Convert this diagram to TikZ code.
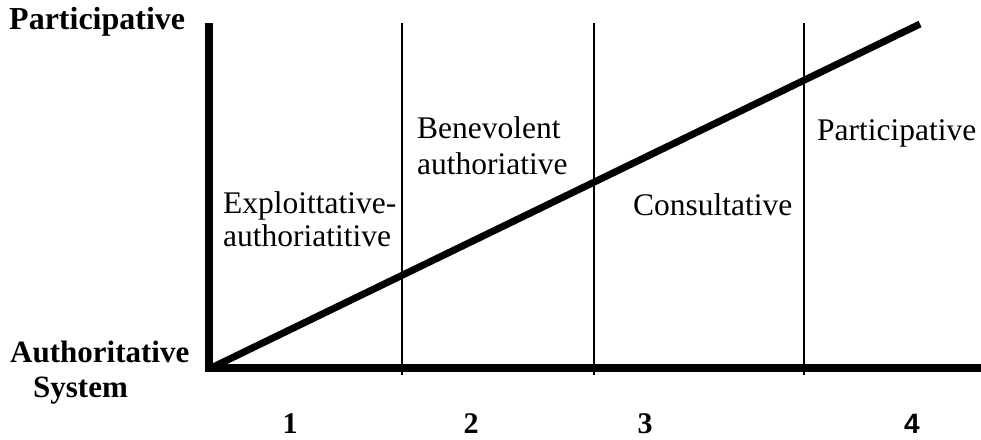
\documentclass[tikz,border=0pt]{standalone}
\usepackage{fontspec}
\setmainfont{Liberation Serif}
\newfontfamily\arialfont{Liberation Sans}
\begin{document}
\begin{tikzpicture}[x=1pt,y=-1pt,
  lbl/.style={anchor=base west,inner sep=0pt,font=\fontsize{31.5}{35}\selectfont},
  blbl/.style={anchor=base west,inner sep=0pt,font=\fontsize{31}{35}\selectfont\bfseries},
  num/.style={anchor=base,inner sep=0pt,font=\fontsize{30}{34}\selectfont\bfseries},
  axis/.style={line width=8.5pt},
  divider/.style={line width=1.5pt},
  trend/.style={line width=7pt}]
\useasboundingbox (0,0) rectangle (981,439);
% coordinates
\coordinate (ytop) at (209,23);
\coordinate (ybot) at (209,372);
\coordinate (xstart) at (205,368);
\coordinate (xend) at (981,368);
\coordinate (d1t) at (402,23);
\coordinate (d1b) at (402,375);
\coordinate (d2t) at (594,23);
\coordinate (d2b) at (594,375);
\coordinate (d3t) at (804,23);
\coordinate (d3b) at (804,375);
\coordinate (ts) at (211,368);
\coordinate (te) at (920,24);
% dividers
\draw[divider] (d1t) -- (d1b);
\draw[divider] (d2t) -- (d2b);
\draw[divider] (d3t) -- (d3b);
% axes
\draw[axis] (xstart) -- (xend);
\draw[axis] (ytop) -- (ybot);
% trend line
\draw[trend] (ts) -- (te);
% axis labels
\node[blbl,font=\fontsize{32}{35}\selectfont\bfseries] (ptop) at (9,29) {Participative};
\node[blbl] (auth) at (10,362) {Authoritative};
\node[blbl] (sys) at (33,397) {System};
% region labels
\node[lbl] (ex1) at (223,213) {Exploittative-};
\node[lbl] (ex2) at (223,246) {authoriatitive};
\node[lbl] (be1) at (417,138) {Benevolent};
\node[lbl] (be2) at (417,174) {authoriative};
\node[lbl] (con) at (633,215) {Consultative};
\node[lbl] (par) at (817,140) {Participative};
% numbers
\node[num] (n1) at (290,433) {1};
\node[num] (n2) at (471,433) {2};
\node[num] (n3) at (645,433) {3};
\node[num,font=\fontsize{28}{32}\selectfont\bfseries\arialfont] (n4) at (912,433) {4};
\end{tikzpicture}
\end{document}
